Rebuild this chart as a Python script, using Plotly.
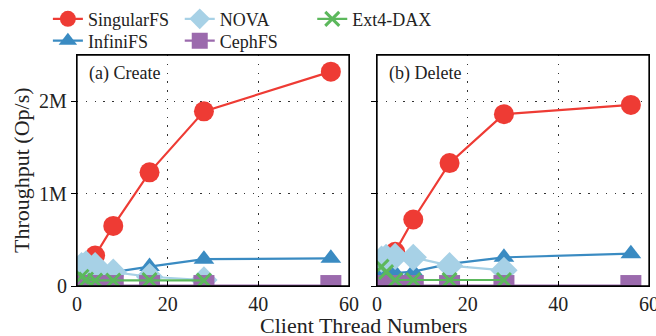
import plotly.graph_objects as go
from plotly.subplots import make_subplots

threads = [1, 2, 4, 8, 16, 28, 56]
threads_short = [1, 2, 4, 8, 16, 28]

# Create (ops/s)
create_singular = [180000, 250000, 330000, 650000, 1230000, 1890000, 2320000]
create_infini = [90000, 100000, 120000, 150000, 210000, 290000, 300000]
create_nova = [220000, 240000, 220000, 150000, 100000, 65000]
create_ceph = [5000, 5000, 5000, 5000, 5000, 5000, 5000]
create_ext4 = [100000, 70000, 60000, 60000, 65000, 60000]

# Delete (ops/s)
delete_singular = [190000, 280000, 370000, 720000, 1330000, 1860000, 1960000]
delete_infini = [120000, 130000, 140000, 155000, 240000, 310000, 350000]
delete_nova = [290000, 310000, 320000, 310000, 220000, 170000]
delete_ceph = [5000, 5000, 5000, 5000, 5000, 5000, 5000]
delete_ext4 = [210000, 150000, 65000, 65000, 65000, 65000]

series_names = ["SingularFS", "InfiniFS", "NOVA", "CephFS", "Ext4-DAX"]
colors = {"SingularFS": "#EE3B34", "InfiniFS": "#3A8BC2", "NOVA": "#A7D1E6",
          "CephFS": "#9B6AAD", "Ext4-DAX": "#5CB85C"}
symbols = {"SingularFS": "circle", "InfiniFS": "triangle-up", "NOVA": "diamond",
           "CephFS": "square", "Ext4-DAX": "x-thin"}
sizes = {"SingularFS": 20, "InfiniFS": 18, "NOVA": 21, "CephFS": 21, "Ext4-DAX": 14}
legend_of = {"SingularFS": "legend", "NOVA": "legend2", "Ext4-DAX": "legend3",
             "InfiniFS": "legend4", "CephFS": "legend5"}

panels = [
    {"SingularFS": (threads, create_singular), "InfiniFS": (threads, create_infini),
     "NOVA": (threads_short, create_nova), "CephFS": (threads, create_ceph),
     "Ext4-DAX": (threads_short, create_ext4)},
    {"SingularFS": (threads, delete_singular), "InfiniFS": (threads, delete_infini),
     "NOVA": (threads_short, delete_nova), "CephFS": (threads, delete_ceph),
     "Ext4-DAX": (threads_short, delete_ext4)},
]

fig = make_subplots(rows=1, cols=2, horizontal_spacing=0.049)
FONT = "Liberation Serif"

for i, data in enumerate(panels):
    for name in series_names:
        xs, ys = data[name]
        marker = dict(symbol=symbols[name], size=sizes[name], color=colors[name])
        if name == "Ext4-DAX":
            marker["line"] = dict(color=colors[name], width=3)
        fig.add_trace(go.Scatter(
            x=xs, y=ys, name=name, mode="lines+markers",
            line=dict(color=colors[name], width=2.2),
            marker=marker, showlegend=(i == 0), legend=legend_of[name],
            cliponaxis=True,
        ), row=1, col=i + 1)

axis_common = dict(showline=True, linecolor="black", linewidth=1.2, mirror=True,
                   showgrid=True, gridcolor="#333", gridwidth=1.3, griddash="1.3px,7.5px",
                   zeroline=False, ticklabeloverflow="allow",
                   tickfont=dict(family=FONT, size=20, color="#222"))
for c in (1, 2):
    fig.update_xaxes(range=[0, 60], tickvals=[0, 20, 40, 60], ticks="inside", ticklen=5,
                     tickcolor="black", row=1, col=c, **axis_common)
    fig.update_yaxes(range=[0, 2500000], tickvals=[0, 1000000, 2000000],
                     ticktext=["0", "1M", "2M"], ticks="outside", ticklen=5,
                     tickcolor="black", showticklabels=(c == 1), row=1, col=c, **axis_common)

# explicit panel frames
for xr, yr in (("x", "y"), ("x2", "y2")):
    fig.add_shape(type="rect", xref=f"{xr} domain", yref=f"{yr} domain",
                  x0=0, x1=1, y0=0, y1=1, line=dict(color="black", width=1.3),
                  fillcolor="rgba(0,0,0,0)", layer="above")

fig.add_annotation(text="Throughput (Op/s)", x=-0.097, y=0.5, xref="paper", yref="paper",
                   xanchor="center", yanchor="middle", textangle=-90, showarrow=False,
                   font=dict(family=FONT, size=22, color="#222"))
fig.add_annotation(text="Client Thread Numbers", x=0.5, y=0, xref="paper", yref="paper",
                   xanchor="center", yanchor="top", yshift=-25, showarrow=False,
                   font=dict(family=FONT, size=22, color="#222"))
fig.add_annotation(text="(a) Create", x=0.018, y=0.975, xref="paper", yref="paper",
                   xanchor="left", yanchor="top", showarrow=False,
                   font=dict(family=FONT, size=18, color="#222"))
fig.add_annotation(text="(b) Delete", x=0.542, y=0.975, xref="paper", yref="paper",
                   xanchor="left", yanchor="top", showarrow=False,
                   font=dict(family=FONT, size=18, color="#222"))

leg_common = dict(orientation="v", yanchor="top", xanchor="left", xref="container",
                  yref="container", font=dict(family=FONT, size=18, color="#222"),
                  itemwidth=30, tracegroupgap=0, bgcolor="rgba(0,0,0,0)",
                  borderwidth=0)
row1_y = 0.998
row2_y = 0.933

fig.update_layout(
    width=656, height=336,
    margin=dict(l=77, r=7, t=55, b=50, autoexpand=False),
    paper_bgcolor="white", plot_bgcolor="white",
    font=dict(family=FONT, color="#222"),
    legend=dict(x=0.073, y=row1_y, **leg_common),
    legend2=dict(x=0.274, y=row1_y, **leg_common),
    legend3=dict(x=0.476, y=row1_y, **leg_common),
    legend4=dict(x=0.073, y=row2_y, **leg_common),
    legend5=dict(x=0.274, y=row2_y, **leg_common),
)

fig.write_html(
    "out.html",
    config={"displayModeBar": False},
    post_script="document.body.style.margin='0px';document.body.style.overflow='hidden';",
)
